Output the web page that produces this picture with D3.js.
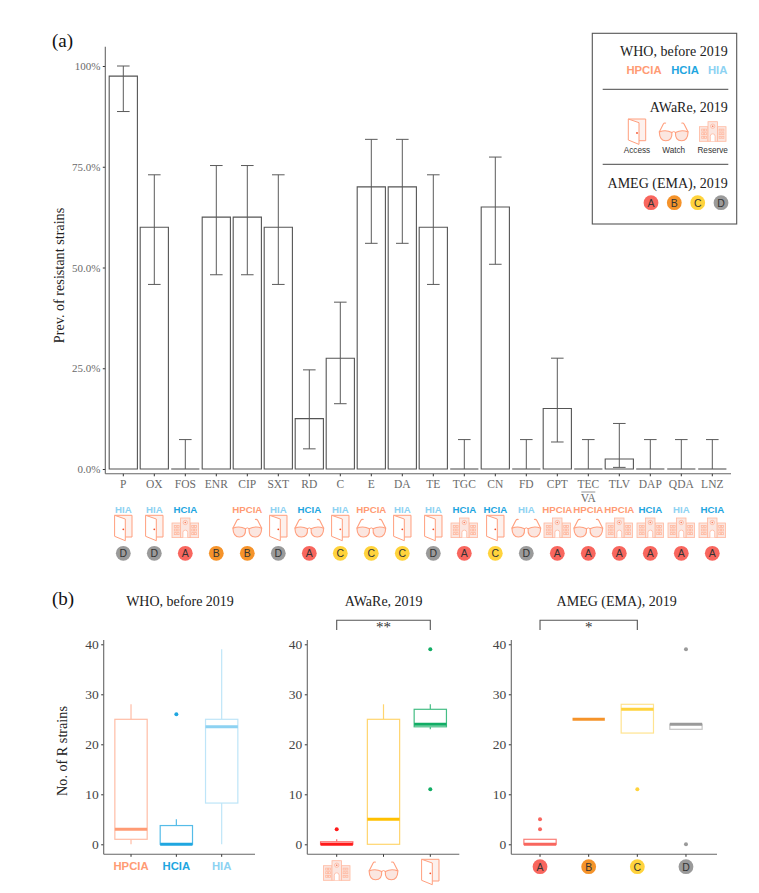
<!DOCTYPE html>
<html><head><meta charset="utf-8">
<script src="https://cdn.jsdelivr.net/npm/d3@7/dist/d3.min.js"></script>
<style>html,body{margin:0;padding:0;background:#fff}svg{display:block}</style></head>
<body><svg id="c" width="759" height="893"></svg>
<script>
// ---- data, panel (a)
const categories=["P","OX","FOS","ENR","CIP","SXT","RD","C","E","DA","TE","TGC","CN","FD","CPT","TEC/VA","TLV","DAP","QDA","LNZ"];
const prevalence=[97.5,60,0,62.5,62.5,60,12.5,27.5,70,70,60,0,65,0,15,0,2.5,0,0,0];
const ciLow=[88.7,45.8,0,48.2,48.2,45.8,5,16.2,56,56,45.8,0,50.8,0,6.7,0,0.4,0,0,0];
const ciHigh=[100,73,7.3,75.3,75.3,73,24.6,41.4,81.8,81.8,73,7.3,77.4,7.3,27.5,7.3,11.3,7.3,7.3,7.3];
const whoClass=["HIA","HIA","HCIA","","HPCIA","HIA","HCIA","HIA","HPCIA","HIA","HIA","HCIA","HCIA","HIA","HPCIA","HPCIA","HPCIA","HCIA","HIA","HCIA"];
const awareClass=["Access","Access","Reserve","","Watch","Access","Watch","Access","Watch","Access","Access","Reserve","Access","Watch","Reserve","Watch","Reserve","Reserve","Reserve","Reserve"];
const amegClass=["D","D","A","B","B","D","A","C","C","C","D","A","C","D","A","A","A","A","A","A"];
const yTicksA=[0,25,50,75,100];
const yTickLabelsA=["0.0%","25.0%","50.0%","75.0%","100%"];
// ---- data, panel (b)
const whoGroups=["HPCIA","HCIA","HIA"];
const whoQ1=[1,0,8.25],whoMedian=[3,0,23.5],whoQ3=[25,3.75,25],whoMin=[0,0,0],whoMax=[28,5,39];
const whoOutliers=[[],[26],[]];
const awareGroups=["Reserve","Watch","Access"];
const awareQ1=[0,0,23.5],awareMedian=[0,5,24],awareQ3=[0.5,25,27],awareMin=[0,0,23],awareMax=[1,28,28];
const awareOutliers=[[3],[],[11,39]];
const amegGroups=["A","B","C","D"];
const amegQ1=[0,25,22.25,23],amegMedian=[0,25,27,24],amegQ3=[1,25,28,24],amegMin=[0,25,22.25,23],amegMax=[1,25,28,24];
const amegOutliers=[[3,5],[],[11],[0,39]];
const yTicksB=[0,10,20,30,40];
// ---- colours
const whoColor={HPCIA:"#FF9B74",HCIA:"#1FA6E0",HIA:"#8DD2F2"};
const amegColor={A:"#F8665E",B:"#F5932A",C:"#FFD33C",D:"#9A9A9A"};
const SERIF="'Liberation Serif',serif",SANS="'Liberation Sans',sans-serif";
const ICON="#FF9F7E",ICONFILL="#FBE6E0",HOSP="#FFB89F";

const svg=d3.select("#c");
function txt(x,y,s,o={}){const t=svg.append("text").attr("x",x).attr("y",y).text(s)
 .attr("font-family",o.f||SERIF).attr("font-size",o.s||14).attr("fill",o.c||"#222")
 .attr("text-anchor",o.a||"middle");if(o.w)t.attr("font-weight",o.w);
 if(o.r!=null)t.attr("transform",`rotate(${o.r} ${x} ${y})`);return t;}

function door(g){
 g.append("path").attr("d","M-8.7,-12.7H8.7V9H2").attr("fill","#FDF1ED").attr("stroke",ICON).attr("stroke-width",1);
 g.append("path").attr("d","M-8.7,-12.7V8.3L2,12.7V-9Z").attr("fill","#fff").attr("stroke",ICON).attr("stroke-width",1);
 g.append("circle").attr("cx",0).attr("cy",1.3).attr("r",.9).attr("fill","#F5502A");
}
function glasses(g){
 const lens="M-14.4,0.2Q-8,-2.4 -1.8,0.7Q-1.2,9 -8,9Q-14,9 -14.4,0.2Z";
 [1,-1].forEach(k=>{const h=g.append("g").attr("transform",`scale(${k},1)`);
  h.append("path").attr("d",lens).attr("fill",ICONFILL).attr("stroke",ICON).attr("stroke-width",1.1);
  h.append("path").attr("d","M-14.4,0.2L-10.5,-7.5Q-9.5,-9.2 -7.7,-8.4").attr("fill","none").attr("stroke",ICON).attr("stroke-width",1.1);});
 g.append("path").attr("d","M-1.8,0.7Q0,-1 1.8,0.7").attr("fill","none").attr("stroke",ICON).attr("stroke-width",1);
}
function hospital(g){
 const s=e=>e.attr("fill",ICONFILL).attr("stroke",HOSP).attr("stroke-width",.8);
 s(g.append("rect").attr("x",-13.3).attr("y",-5).attr("width",8.6).attr("height",14.6));
 s(g.append("rect").attr("x",4.7).attr("y",-5).attr("width",8.6).attr("height",14.6));
 s(g.append("rect").attr("x",-4.7).attr("y",-10).attr("width",9.4).attr("height",19.6));
 [-11,-8.2,6.4,9.2].forEach(x=>[-2.6,1,4.6].forEach(y=>
   s(g.append("rect").attr("x",x).attr("y",y).attr("width",2).attr("height",2))));
 g.append("circle").attr("cx",0).attr("cy",-5.5).attr("r",2.2).attr("fill","none").attr("stroke",HOSP).attr("stroke-width",.8);
 g.append("circle").attr("cx",0).attr("cy",-5.5).attr("r",.8).attr("fill","#F5795A");
 g.append("path").attr("d","M-2.4,9.6V4.5A2.4,2.4 0 0 1 2.4,4.5V9.6").attr("fill","#fff").attr("stroke",HOSP).attr("stroke-width",.8);
}
const iconFns={Access:door,Watch:glasses,Reserve:hospital};
function icon(name,x,y){const g=svg.append("g").attr("transform",`translate(${x},${y})`);iconFns[name](g);}
function amegDot(k,x,y){
 svg.append("circle").attr("cx",x).attr("cy",y).attr("r",7.4).attr("fill",amegColor[k]);
 txt(x,y+3.8,k,{f:SANS,s:10.5,c:"#333"});
}
function yAxis(scale,ticks,labels,x,top,bottom,col,size,pad){
 const g=svg.append("g").attr("transform",`translate(${x},0)`)
  .call(d3.axisLeft(scale).tickValues(ticks).tickSize(2.5).tickPadding(pad).tickFormat((d,i)=>labels?labels[i]:d));
 g.select(".domain").remove();
 g.selectAll("line").attr("stroke","#333");
 g.selectAll("text").attr("font-family",SERIF).attr("font-size",size).attr("fill",col);
 svg.append("line").attr("x1",x).attr("x2",x).attr("y1",top).attr("y2",bottom).attr("stroke","#666").attr("stroke-width",1.1);
}

// ---- panel (a)
txt(52,47,"(a)",{a:"start",s:19,c:"#111"});
const xA=d3.scaleBand().domain(categories).range([107.8,727.8]).paddingInner(.09).paddingOuter(.045);
const yA=d3.scaleLinear().domain([0,100]).range([469,66]);
const cx=d=>xA(d)+xA.bandwidth()/2;
yAxis(yA,yTicksA,yTickLabelsA,105.3,46.7,473.8,"#6a6a6a",11,2.5);
svg.append("line").attr("x1",105.3).attr("x2",731).attr("y1",473.8).attr("y2",473.8).attr("stroke","#666").attr("stroke-width",1.1);
const axA=svg.append("g").attr("transform","translate(0,473.8)").call(d3.axisBottom(xA).tickSize(2.5).tickPadding(5).tickFormat(()=>""));
axA.select(".domain").remove();axA.selectAll("line").attr("stroke","#333");
categories.forEach((c,i)=>{
 const x=cx(c);
 if(c.includes("/")){const [a,b]=c.split("/");
  txt(x,488,a,{s:11.5,c:"#6a6a6a"});
  svg.append("line").attr("x1",x-7).attr("x2",x+7).attr("y1",492).attr("y2",492).attr("stroke","#777").attr("stroke-width",.8);
  txt(x,502,b,{s:11.5,c:"#6a6a6a"});
 } else txt(x,488,c,{s:11.5,c:"#6a6a6a"});
});
const mk=svg.append("g");
mk.selectAll("path").data(categories).join("path")
 .attr("d",(d,i)=>{const l=xA(d),r=l+xA.bandwidth(),t=yA(prevalence[i]),b=yA(0);
   return prevalence[i]>0?`M${l},${b}V${t}H${r}V${b}Z`:`M${l},${b}H${r}`;})
 .attr("fill","#fff").attr("stroke","#555").attr("stroke-width",1.1);
const eb=svg.append("g").attr("stroke","#5a5a5a").attr("stroke-width",1);
categories.forEach((c,i)=>{
 const x=cx(c);
 eb.append("line").attr("x1",x).attr("x2",x).attr("y1",yA(ciLow[i])).attr("y2",yA(ciHigh[i]));
 [ciLow[i],ciHigh[i]].forEach(v=>{ if(v>0) eb.append("line").attr("x1",x-6.3).attr("x2",x+6.3).attr("y1",yA(v)).attr("y2",yA(v));});
});
txt(64,275.5,"Prev. of resistant strains",{s:14.2,r:-90,c:"#222"});
// annotation strip
categories.forEach((c,i)=>{
 const x=cx(c);
 if(whoClass[i])txt(x,513,whoClass[i],{f:SANS,s:9.7,w:"bold",c:whoColor[whoClass[i]]});
 if(awareClass[i])icon(awareClass[i],x,528);
 amegDot(amegClass[i],x,553.3);
});

// ---- legend
svg.append("rect").attr("x",592.3).attr("y",33.3).attr("width",144.4).attr("height",190.7).attr("fill","#fff").attr("stroke","#555").attr("stroke-width",1.1);
txt(727.7,56,"WHO, before 2019",{a:"end",s:14});
[["HPCIA",644],["HCIA",685],["HIA",717.7]].forEach(([k,x])=>txt(x,74,k,{f:SANS,s:11.3,w:"bold",c:whoColor[k]}));
[89.3,164.3].forEach(y=>svg.append("line").attr("x1",602.7).attr("x2",728.3).attr("y1",y).attr("y2",y).attr("stroke","#333").attr("stroke-width",.9));
txt(727.7,112,"AWaRe, 2019",{a:"end",s:14});
[["Access",637],["Watch",673.7],["Reserve",712.7]].forEach(([k,x])=>{icon(k,x,131.7);txt(x,153,k,{f:SANS,s:8.2,c:"#333"});});
txt(727.7,187.5,"AMEG (EMA), 2019",{a:"end",s:14});
amegGroups.forEach((k,i)=>amegDot(k,[651,674.3,697.7,721][i],202.7));

// ---- panel (b)
txt(52,605,"(b)",{a:"start",s:19,c:"#111"});
const yB=d3.scaleLinear().domain([0,40]).range([844.3,644.3]);
const whoBoxLight={HPCIA:"#FFBDA6",HCIA:"#55BCE8",HIA:"#BEE5F8"};
function boxPanel(o){
 const x=d3.scaleBand().domain(o.groups).range(o.range).paddingInner(o.pad).paddingOuter(o.pad/2);
 yAxis(yB,yTicksB,null,o.axisX,640,854.3,"#444",13.5,2.5);
 svg.append("line").attr("x1",o.axisX).attr("x2",o.right).attr("y1",854.3).attr("y2",854.3).attr("stroke","#666").attr("stroke-width",1.1);
 const ax=svg.append("g").attr("transform","translate(0,854.3)").call(d3.axisBottom(x).tickSize(2.5).tickFormat(()=>""));
 ax.select(".domain").remove();ax.selectAll("line").attr("stroke","#333");
 o.groups.forEach((g,i)=>{
  const c=x(g)+x.bandwidth()/2, col=o.boxColor[i], med=o.medColor[i];
  [[o.q3[i],o.max[i]],[o.q1[i],o.min[i]]].forEach(([a,b])=>{
    if(a!==b)svg.append("line").attr("x1",c).attr("x2",c).attr("y1",yB(a)).attr("y2",yB(b)).attr("stroke",col).attr("stroke-width",1.2);});
  svg.append("rect").attr("x",x(g)).attr("width",x.bandwidth()).attr("y",yB(o.q3[i])).attr("height",yB(o.q1[i])-yB(o.q3[i]))
   .attr("fill","#fff").attr("stroke",col).attr("stroke-width",1.2);
  svg.append("line").attr("x1",x(g)).attr("x2",x(g)+x.bandwidth()).attr("y1",yB(o.med[i])).attr("y2",yB(o.med[i])).attr("stroke",med).attr("stroke-width",3);
  o.out[i].forEach(v=>svg.append("circle").attr("cx",c).attr("cy",yB(v)).attr("r",2).attr("fill",med));
  o.label(g,c);
 });
 return x;
}
function bracket(x1,x2,s){
 svg.append("path").attr("d",`M${x1},630V620.3H${x2}V630`).attr("fill","none").attr("stroke","#555").attr("stroke-width",1.1);
 txt((x1+x2)/2,632,s,{s:15,c:"#333"});
}
boxPanel({groups:whoGroups,range:[108.35,244.35],pad:.287,axisX:103.7,right:255,q1:whoQ1,med:whoMedian,q3:whoQ3,min:whoMin,max:whoMax,out:whoOutliers,
 boxColor:whoGroups.map(k=>whoBoxLight[k]),medColor:whoGroups.map(k=>whoColor[k]),
 label:(g,c)=>txt(c,870,g,{f:SANS,s:11.3,w:"bold",c:whoColor[g]})});
const xAw=boxPanel({groups:awareGroups,range:[313.3,453.7],pad:.31,axisX:307.3,right:459.3,q1:awareQ1,med:awareMedian,q3:awareQ3,min:awareMin,max:awareMax,out:awareOutliers,
 boxColor:["#FF6B6B","#FFD56E","#45BE85"],medColor:["#FF1A1A","#FFC000","#12AD65"],
 label:(g,c)=>icon(g,c,g==="Access"?872:870.7)});
const xAm=boxPanel({groups:amegGroups,range:[515.7,710.3],pad:.336,axisX:511.3,right:717,q1:amegQ1,med:amegMedian,q3:amegQ3,min:amegMin,max:amegMax,out:amegOutliers,
 boxColor:["#FA7F78","#F5932A","#FFE390","#C4C4C4"],medColor:amegGroups.map(k=>amegColor[k]),
 label:(g,c)=>amegDot(g,c,866.7)});
const bc=(x,k)=>x(k)+x.bandwidth()/2;
bracket(bc(xAw,"Reserve"),bc(xAw,"Access"),"**");
bracket(bc(xAm,"A"),bc(xAm,"C"),"*");
txt(180,606,"WHO, before 2019",{s:14});
txt(383.7,606,"AWaRe, 2019",{s:14});
txt(616.7,606,"AMEG (EMA), 2019",{s:14});
txt(66.5,751,"No. of R strains",{s:14.2,r:-90,c:"#222"});
</script></body></html>
